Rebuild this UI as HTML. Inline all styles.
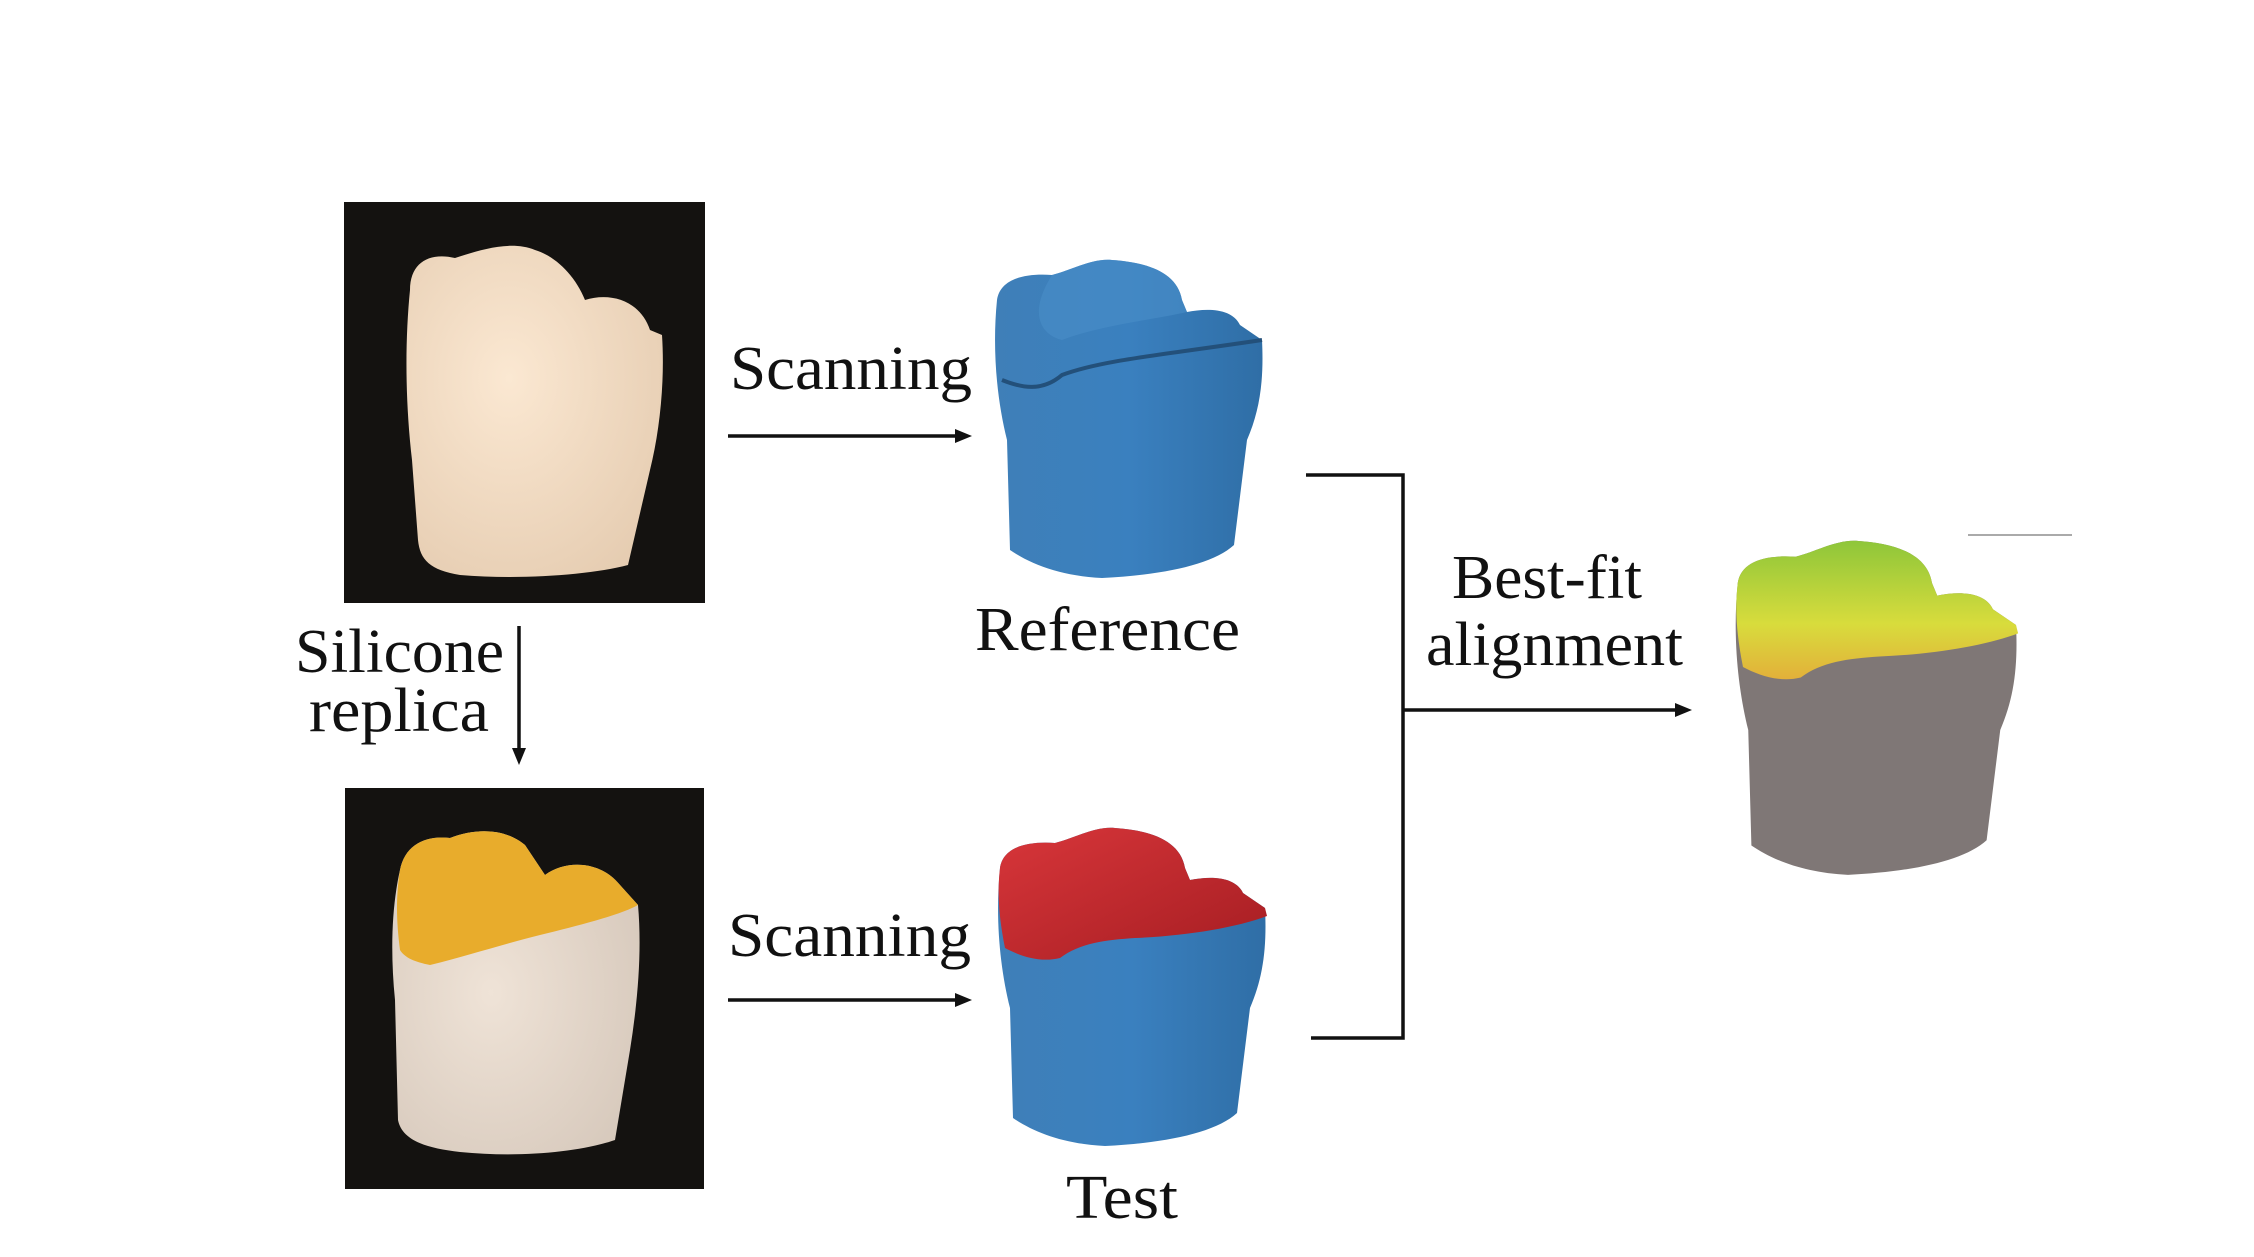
<!DOCTYPE html>
<html><head><meta charset="utf-8"><style>
html,body{margin:0;padding:0;background:#fff}
svg{display:block}
text{font-family:"Liberation Serif",serif;fill:#111}
</style></head><body>
<svg width="2254" height="1257" viewBox="0 0 2254 1257" xmlns="http://www.w3.org/2000/svg">
<defs>
<path id="tooth" d="M15,60 C18,40 40,33 70,35 C90,30 110,18 130,20 C160,22 195,30 200,60 L205,72 C225,68 250,68 258,85 L280,100 C282,140 278,170 265,200 L252,305 C230,325 180,335 120,338 C80,336 50,325 28,310 L25,200 C15,160 10,110 15,60 Z"/>
<path id="crown" d="M15,60 C18,40 40,33 70,35 C90,30 110,18 130,20 C160,22 195,30 200,60 L205,72 C225,68 250,68 258,85 L280,100 L282,108 C250,120 200,128 150,130 C120,132 95,135 75,150 C55,155 35,148 20,140 C14,110 12,85 15,60 Z"/>
<linearGradient id="blue" x1="0" y1="0" x2="1" y2="0">
<stop offset="0" stop-color="#3f7fb8"/><stop offset="0.5" stop-color="#3a80bf"/><stop offset="1" stop-color="#2f6ea6"/></linearGradient>
<linearGradient id="red" x1="0" y1="0" x2="1" y2="1">
<stop offset="0" stop-color="#d8363a"/><stop offset="1" stop-color="#a51d22"/></linearGradient>
<linearGradient id="grn" x1="0" y1="0" x2="0" y2="1">
<stop offset="0" stop-color="#8ec63a"/><stop offset="0.6" stop-color="#d8dc3c"/><stop offset="1" stop-color="#e3b03a"/></linearGradient>
<radialGradient id="cream" cx="0.4" cy="0.4" r="0.7">
<stop offset="0" stop-color="#fbe8d2"/><stop offset="1" stop-color="#e6cdb2"/></radialGradient>
<radialGradient id="cream2" cx="0.4" cy="0.5" r="0.7">
<stop offset="0" stop-color="#efe3d7"/><stop offset="1" stop-color="#d6c8bb"/></radialGradient>
</defs>

<!-- photo 1 -->
<rect x="344" y="202" width="361" height="401" fill="#141210"/>
<path d="M410,290 C410,262 430,252 455,258 C480,250 510,240 535,250 C555,256 575,275 585,300 C610,292 640,300 650,330 L662,335 C665,380 660,430 650,470 L628,565 C590,575 520,580 460,575 C430,570 420,560 418,540 L412,460 C405,400 405,340 410,290 Z" fill="url(#cream)"/>
<!-- photo 2 -->
<rect x="345" y="788" width="359" height="401" fill="#141210"/>
<path d="M400,870 C405,845 425,835 450,838 C475,828 505,828 525,845 L545,875 C565,860 600,860 620,885 L638,905 C642,950 638,1000 630,1050 L615,1140 C580,1152 520,1158 460,1152 C425,1148 402,1140 398,1120 L395,1000 C390,950 392,905 400,870 Z" fill="url(#cream2)"/>
<path d="M400,870 C405,845 425,835 450,838 C475,828 505,828 525,845 L545,875 C565,860 600,860 620,885 L638,905 C620,915 580,925 540,935 C500,945 470,955 430,965 C415,962 405,958 400,950 C396,920 396,895 400,870 Z" fill="#e8ac2c"/>

<!-- reference tooth -->
<g transform="translate(982,240)">
<use href="#tooth" fill="url(#blue)"/>
<path d="M70,35 C90,30 110,18 130,20 C160,22 195,30 200,60 L205,72 C170,80 120,85 80,100 C60,95 45,75 70,35Z" fill="#4a8dc8" opacity="0.6"/>
<path d="M20,140 C40,148 60,152 80,135 C120,120 180,115 280,100" fill="none" stroke="#23507a" stroke-width="4"/>
</g>
<!-- test tooth -->
<g transform="translate(985,808)">
<use href="#tooth" fill="url(#blue)"/>
<use href="#crown" fill="url(#red)"/>
</g>
<!-- result tooth -->
<g transform="translate(1722,520) scale(1.05)">
<use href="#tooth" fill="#7f7776"/>
<use href="#crown" fill="url(#grn)"/>
</g>
<line x1="1968" y1="535" x2="2072" y2="535" stroke="#aaa" stroke-width="2"/>

<!-- arrows -->
<g stroke="#111" stroke-width="3.5" fill="none">
<line x1="728" y1="436" x2="958" y2="436"/>
<line x1="728" y1="1000" x2="958" y2="1000"/>
<line x1="519" y1="626" x2="519" y2="750"/>
<polyline points="1306,475 1403,475 1403,1038 1311,1038"/>
<line x1="1403" y1="710" x2="1678" y2="710"/>
</g>
<g fill="#111">
<polygon points="972,436 955,429 955,443"/>
<polygon points="972,1000 955,993 955,1007"/>
<polygon points="519,765 512,748 526,748"/>
<polygon points="1692,710 1675,703 1675,717"/>
</g>

<!-- labels -->
<text x="730" y="389" font-size="62" textLength="242" lengthAdjust="spacingAndGlyphs">Scanning</text>
<text x="728" y="956" font-size="62" textLength="243" lengthAdjust="spacingAndGlyphs">Scanning</text>
<text x="975" y="650" font-size="62" textLength="265" lengthAdjust="spacingAndGlyphs">Reference</text>
<text x="1066" y="1218" font-size="62" textLength="112" lengthAdjust="spacingAndGlyphs">Test</text>
<text x="295" y="672" font-size="62" textLength="209" lengthAdjust="spacingAndGlyphs">Silicone</text>
<text x="309" y="731" font-size="62" textLength="180" lengthAdjust="spacingAndGlyphs">replica</text>
<text x="1452" y="598" font-size="62" textLength="190" lengthAdjust="spacingAndGlyphs">Best-fit</text>
<text x="1426" y="665" font-size="62" textLength="257" lengthAdjust="spacingAndGlyphs">alignment</text>
</svg>
</body></html>
